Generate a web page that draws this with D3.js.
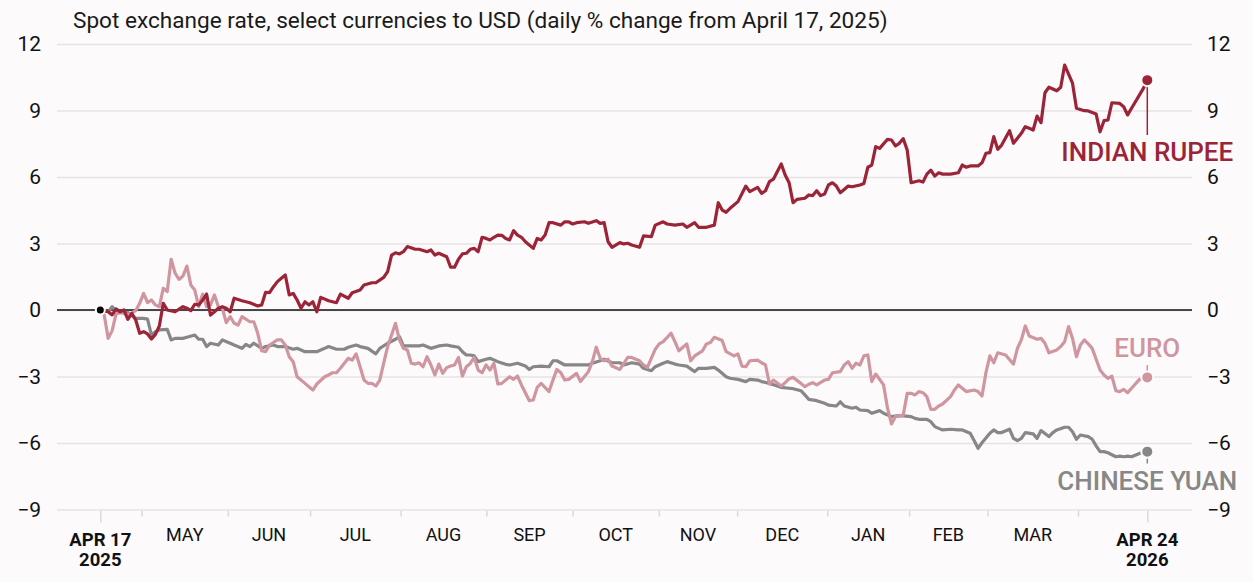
<!DOCTYPE html>
<html>
<head>
<meta charset="utf-8">
<script src="https://cdn.jsdelivr.net/npm/d3@7"></script>
<style>
  body { margin: 0; background: #fcfafb; }
  svg { display: block; font-family: Roboto, sans-serif; }
</style>
</head>
<body>
<svg id="chart"></svg>
<script>
const chartSize = { width: 1253, height: 582 };
const plot = { left: 57, right: 1192, top: 44, bottom: 509.5, x0: 100.3, x1: 1147.3 };

// trading days since Apr 17 2025 (266 = Apr 24 2026)
const lastDay = 266;
const yTicks = [-9, -6, -3, 0, 3, 6, 9, 12];
const monthDays = [10.5, 32.4, 53.3, 76.3, 98.1, 120, 141.9, 161.8, 184.7, 205.5, 225.4, 248.4];
const monthLabels = ['MAY', 'JUN', 'JUL', 'AUG', 'SEP', 'OCT', 'NOV', 'DEC', 'JAN', 'FEB', 'MAR'];
const endLabels = [['APR 17', '2025'], ['APR 24', '2026']];

// [trading day, % change]
const rupee = [[0,0],[2,-0.08],[3,-0.22],[4,0.05],[5,-0.08],[6,0],[7,-0.42],[8,-0.15],[9,-0.45],[10,-1.05],
  [11,-0.98],[12,-1.08],[13,-1.31],[14,-1.1],[15,-0.72],[16,0.3],[17,0],[19,-0.08],[21,0.15],[22,0.08],
  [23,-0.03],[24,0.26],[25,0.23],[26,0.45],[27,0.72],[28,-0.23],[29,-0.08],[30,0.08],[31,0.15],[32,0.08],
  [33,-0.08],[34,0.53],[36,0.42],[38,0.33],[40,0.18],[41,0.23],[42,0.8],[43,0.78],[44,1.05],[45,1.28],
  [46,1.43],[47,1.58],[48,0.68],[49,0.75],[50,0.45],[51,0.08],[52,0.37],[53,0.23],[54,0.37],[55,-0.08],
  [56,0.57],[58,0.42],[60,0.33],[61,0.72],[63,0.53],[64,0.78],[66,0.9],[67,1.13],[69,1.23],[70,1.23],
  [72,1.47],[73,1.73],[74,2.48],[75,2.58],[76,2.53],[77,2.63],[78,2.86],[80,2.74],[81,2.74],[83,2.63],
  [84,2.71],[85,2.48],[86,2.56],[87,2.48],[88,2.4],[89,1.93],[90,1.93],[91,2.29],[92,2.53],[93,2.56],
  [94,2.74],[95,2.78],[96,2.63],[97,3.28],[98,3.23],[99,3.16],[100,3.28],[101,3.38],[102,3.37],[103,3.23],
  [104,3.16],[105,3.58],[106,3.38],[107,3.28],[108,3.08],[110,2.78],[111,3.23],[112,3.16],[113,3.38],[114,3.94],
  [115,3.94],[117,3.83],[118,3.98],[119,3.98],[120,3.88],[121,3.94],[123,3.98],[124,3.91],[126,4.03],[127,3.91],
  [128,3.94],[129,3.08],[130,2.83],[132,3.04],[133,2.98],[134,3.01],[135,2.93],[137,2.83],[138,3.34],[140,3.31],
  [141,3.83],[143,3.98],[144,3.88],[146,3.83],[148,3.88],[149,3.73],[151,3.94],[152,3.73],[154,3.73],[156,3.83],
  [157,4.84],[158,4.51],[159,4.41],[160,4.59],[162,4.89],[164,5.59],[165,5.34],[167,5.53],[168,5.26],[169,5.38],
  [170,5.79],[171,5.9],[173,6.59],[174,6.09],[175,5.74],[176,4.84],[177,4.99],[179,5.04],[180,5.19],[181,5.16],
  [182,5.38],[183,5.16],[184,5.23],[185,5.64],[186,5.74],[187,5.59],[188,5.29],[189,5.44],[190,5.59],[191,5.56],
  [193,5.64],[194,5.71],[195,6.44],[196,6.54],[197,7.37],[198,7.29],[200,7.7],[201,7.67],[202,7.4],[203,7.52],
  [204,7.73],[205,7.22],[206,5.74],[208,5.83],[209,5.77],[210,6.13],[211,6.31],[212,6.04],[213,6.19],[214,6.13],
  [216,6.13],[218,6.19],[219,6.54],[220,6.44],[221,6.5],[223,6.5],[224,6.64],[225,7.07],[226,7.1],[227,7.82],
  [228,7.25],[229,7.44],[231,8.09],[232,7.52],[233,7.75],[234,7.97],[235,8.27],[236,8.2],[237,8.12],[238,8.75],
  [239,8.45],[240,9.8],[241,10.05],[243,9.89],[244,10.05],[245,11.05],[247,10.23],[248,9.1],[250,8.99],[251,8.98],
  [253,8.84],[254,8.04],[255,8.54],[256,8.57],[257,9.35],[259,9.32],[260,9.17],[261,8.8],[262,9.1],[265,10.0],
  [266,10.37]];

const euro = [[0,0],[1,-0.23],[2,-1.28],[3,-0.93],[4,-0.18],[5,-0.12],[6,-0.15],[7,-0.23],[9,-0.03],[10,0.3],
  [11,0.75],[12,0.33],[13,0.45],[14,0.23],[15,0.15],[16,0.98],[17,0.83],[18,2.29],[19,1.66],[20,1.38],
  [21,1.53],[22,1.98],[23,1.13],[24,0.9],[25,0.15],[26,0.72],[27,0.15],[28,0.23],[29,0.68],[30,0.15],
  [31,0.08],[32,-0.57],[33,-0.3],[34,-0.6],[35,-0.68],[36,-0.3],[38,-0.53],[39,-0.53],[40,-1.05],[41,-1.84],
  [42,-1.88],[43,-1.58],[45,-1.35],[46,-1.35],[47,-1.58],[48,-2.11],[49,-2.33],[50,-3.01],[52,-3.31],[53,-3.46],
  [54,-3.61],[55,-3.34],[57,-3.01],[58,-2.93],[59,-2.83],[60,-2.83],[61,-2.63],[63,-2.18],[64,-2.26],[65,-1.98],
  [66,-2.56],[67,-3.16],[68,-3.31],[69,-3.31],[70,-3.43],[71,-3.16],[72,-2.4],[73,-1.65],[74,-1.13],[75,-0.6],
  [76,-1.35],[77,-1.73],[78,-1.8],[79,-2.4],[80,-2.44],[81,-2.38],[82,-2.56],[83,-2.11],[84,-2.48],[85,-2.93],
  [86,-2.44],[87,-2.86],[88,-2.6],[89,-2.53],[90,-2.48],[91,-2.14],[92,-2.98],[93,-2.56],[94,-2.41],[95,-2.14],
  [96,-2.71],[97,-2.83],[98,-2.48],[99,-2.71],[100,-2.41],[101,-3.34],[102,-3.31],[104,-3.01],[105,-3.13],[106,-2.98],
  [107,-3.38],[109,-4.09],[110,-4.06],[111,-3.49],[112,-3.31],[114,-3.68],[115,-3.16],[116,-2.68],[117,-2.83],[118,-3.16],
  [119,-3.13],[121,-2.86],[122,-3.23],[124,-2.78],[125,-2.33],[126,-1.68],[127,-2.18],[128,-2.29],[129,-2.22],[130,-2.53],
  [132,-2.68],[133,-2.41],[134,-2.14],[135,-2.14],[137,-2.29],[138,-2.48],[139,-2.59],[141,-1.77],[142,-1.53],[143,-1.43],
  [145,-1.05],[146,-1.43],[147,-1.84],[149,-1.53],[150,-2.29],[151,-2.07],[153,-1.84],[154,-1.53],[155,-1.47],[156,-1.23],
  [158,-1.38],[159,-1.88],[161,-2.07],[162,-1.98],[163,-2.53],[164,-2.56],[165,-2.29],[167,-2.26],[168,-2.38],[169,-2.48],
  [170,-3.34],[171,-3.16],[173,-3.43],[174,-3.28],[175,-3.1],[176,-3.04],[178,-3.31],[179,-3.46],[180,-3.35],[181,-3.28],
  [182,-3.38],[184,-3.16],[185,-3.13],[186,-2.83],[188,-2.78],[189,-2.48],[190,-2.33],[191,-2.63],[192,-2.4],[193,-2.48],
  [194,-2.07],[195,-2.03],[196,-3.23],[197,-2.89],[199,-3.38],[200,-4.43],[201,-5.14],[202,-4.81],[204,-4.74],[205,-3.76],
  [206,-3.76],[207,-3.83],[208,-3.68],[209,-3.73],[210,-3.91],[211,-4.48],[212,-4.48],[213,-4.33],[214,-4.24],[216,-3.91],
  [217,-3.61],[218,-3.38],[219,-3.53],[220,-3.68],[222,-3.61],[223,-3.68],[224,-3.88],[225,-2.83],[226,-2.07],[227,-2.38],
  [228,-1.93],[230,-2.03],[232,-2.44],[233,-1.73],[234,-1.35],[235,-0.72],[236,-1.17],[238,-1.32],[239,-1.28],[240,-1.5],
  [241,-1.93],[243,-1.8],[244,-1.65],[245,-1.43],[246,-0.75],[247,-1.28],[248,-2.11],[249,-1.58],[250,-1.35],[251,-1.53],
  [252,-1.73],[254,-2.71],[255,-2.93],[256,-3.08],[257,-2.98],[258,-3.64],[259,-3.68],[260,-3.58],[261,-3.73],[262,-3.53],
  [264,-3.13],[266,-3.04]];

const yuan = [[0,0],[2,-0.08],[3,0.15],[4,-0.03],[5,-0.08],[7,-0.12],[9,-0.38],[11,-0.38],[12,-0.41],[13,-1.13],
  [14,-0.98],[15,-0.9],[17,-0.87],[18,-1.35],[19,-1.28],[21,-1.28],[22,-1.23],[24,-1.13],[25,-1.32],[26,-1.32],
  [27,-1.65],[28,-1.5],[30,-1.58],[31,-1.35],[33,-1.5],[34,-1.58],[36,-1.73],[37,-1.55],[38,-1.65],[39,-1.5],
  [41,-1.73],[42,-1.65],[44,-1.58],[45,-1.65],[47,-1.65],[49,-1.77],[50,-1.73],[52,-1.88],[55,-1.88],[57,-1.73],
  [58,-1.65],[60,-1.77],[62,-1.77],[63,-1.68],[65,-1.58],[66,-1.65],[68,-1.73],[70,-1.98],[71,-1.73],[73,-1.5],
  [75,-1.32],[76,-1.2],[77,-1.62],[79,-1.62],[81,-1.62],[82,-1.58],[84,-1.73],[86,-1.62],[88,-1.58],[89,-1.62],
  [91,-1.68],[92,-1.88],[93,-2.03],[94,-2.03],[95,-2.07],[96,-2.33],[98,-2.22],[99,-2.18],[101,-2.33],[103,-2.45],
  [104,-2.48],[106,-2.4],[108,-2.53],[109,-2.68],[110,-2.56],[112,-2.53],[114,-2.56],[115,-2.29],[116,-2.29],[118,-2.48],
  [120,-2.48],[122,-2.48],[124,-2.48],[125,-2.4],[127,-2.29],[128,-2.22],[130,-2.38],[132,-2.38],[133,-2.48],[135,-2.38],
  [137,-2.44],[138,-2.63],[140,-2.74],[141,-2.56],[143,-2.4],[144,-2.33],[146,-2.44],[147,-2.48],[149,-2.53],[151,-2.78],
  [152,-2.63],[154,-2.63],[156,-2.59],[157,-2.71],[159,-3.01],[160,-3.08],[162,-3.13],[164,-3.23],[165,-3.13],[167,-3.16],
  [168,-3.23],[170,-3.31],[172,-3.43],[173,-3.49],[175,-3.53],[176,-3.55],[178,-3.64],[179,-3.83],[180,-4.03],[182,-4.09],
  [184,-4.21],[185,-4.29],[187,-4.33],[188,-4.14],[189,-4.33],[191,-4.43],[192,-4.39],[193,-4.51],[195,-4.54],[196,-4.66],
  [198,-4.54],[199,-4.66],[201,-4.81],[202,-4.78],[204,-4.78],[206,-4.81],[207,-4.89],[208,-4.93],[210,-4.93],[211,-5.04],
  [212,-5.26],[213,-5.34],[214,-5.41],[216,-5.38],[218,-5.41],[219,-5.41],[221,-5.56],[222,-5.89],[223,-6.24],[224,-5.99],
  [226,-5.56],[227,-5.41],[228,-5.53],[229,-5.53],[231,-5.38],[232,-5.79],[233,-5.89],[234,-5.79],[235,-5.53],[237,-5.59],
  [238,-5.79],[239,-5.44],[241,-5.71],[242,-5.53],[243,-5.41],[245,-5.29],[246,-5.29],[247,-5.49],[248,-5.83],[249,-5.64],
  [251,-5.71],[252,-5.83],[253,-6.13],[254,-6.39],[255,-6.39],[256,-6.44],[258,-6.62],[259,-6.59],[260,-6.62],[261,-6.59],
  [262,-6.62],[264,-6.47],[266,-6.39]];

const seriesNames = ['CHINESE YUAN', 'EURO', 'INDIAN RUPEE'];
const seriesColors = ['#878787', '#cf96a0', '#9b2438'];

const drawChart = () => {
    const svg = d3.select('#chart')
        .attr('width', chartSize.width)
        .attr('height', chartSize.height);

    const x = d3.scaleLinear().domain([0, lastDay]).range([plot.x0, plot.x1]);
    const y = d3.scaleLinear().domain([-9, 12]).range([plot.bottom, plot.top]);

    svg.append('text')
        .attr('x', 73)
        .attr('y', 28)
        .attr('font-size', 22.6)
        .attr('fill', '#1a1a1a')
        .text('Spot exchange rate, select currencies to USD (daily % change from April 17, 2025)');

    // gridlines
    const grid = svg.append('g')
        .attr('transform', `translate(${plot.left},0)`)
        .call(d3.axisLeft(y).tickValues(yTicks).tickSize(-(plot.right - plot.left)).tickFormat(''));
    grid.select('.domain').remove();
    grid.selectAll('line').attr('stroke', '#e6e3e4').attr('stroke-width', 1.5);

    const yLabels = (axis, xPos, anchor) => {
        const g = svg.append('g')
            .attr('transform', `translate(${xPos},0)`)
            .call(axis.tickValues(yTicks).tickSize(0).tickPadding(0));
        g.select('.domain').remove();
        g.selectAll('text')
            .attr('font-family', 'Roboto, sans-serif')
            .attr('font-size', 21)
            .attr('fill', '#111')
            .attr('text-anchor', anchor);
    };
    yLabels(d3.axisLeft(y), 41, 'end');
    yLabels(d3.axisRight(y), 1207, 'start');

    // month ticks
    const months = svg.append('g')
        .attr('transform', `translate(0,${plot.bottom + 1})`)
        .call(d3.axisBottom(x).tickValues(monthDays).tickSize(6).tickFormat(''));
    months.select('.domain').remove();
    months.selectAll('line').attr('stroke', '#dcd9da').attr('stroke-width', 1.5);

    const ends = svg.append('g')
        .attr('transform', `translate(0,${plot.bottom + 1})`)
        .call(d3.axisBottom(x).tickValues([0, lastDay]).tickSize(12).tickFormat(''));
    ends.select('.domain').remove();
    ends.selectAll('line').attr('stroke', '#dcd9da').attr('stroke-width', 1.5);

    svg.append('g').selectAll('text')
        .data(monthLabels)
        .join('text')
        .attr('x', (d, i) => x((monthDays[i] + monthDays[i + 1]) / 2))
        .attr('y', 540.5)
        .attr('text-anchor', 'middle')
        .attr('font-size', 18)
        .attr('fill', '#111')
        .text(d => d);

    const endText = svg.append('g').selectAll('text')
        .data(endLabels)
        .join('text')
        .attr('x', (d, i) => x(i === 0 ? 0 : lastDay))
        .attr('text-anchor', 'middle')
        .attr('font-size', 18.5)
        .attr('font-weight', 'bold')
        .attr('fill', '#111');
    endText.append('tspan').attr('y', 545.5).text(d => d[0]);
    endText.append('tspan')
        .attr('x', (d, i) => x(i === 0 ? 0 : lastDay))
        .attr('y', 565.5)
        .text(d => d[1]);

    // zero line
    svg.append('line')
        .attr('x1', plot.left).attr('x2', plot.right)
        .attr('y1', y(0)).attr('y2', y(0))
        .attr('stroke', '#111').attr('stroke-width', 1.5);

    const line = d3.line().x(d => x(d[0])).y(d => y(d[1]));
    const allSeries = [yuan, euro, rupee];

    svg.append('g').selectAll('path')
        .data(allSeries)
        .join('path')
        .attr('d', line)
        .attr('fill', 'none')
        .attr('stroke', (d, i) => seriesColors[i])
        .attr('stroke-width', 3.2)
        .attr('stroke-linejoin', 'round');

    // start dot
    svg.append('circle')
        .attr('cx', x(0)).attr('cy', y(0)).attr('r', 4.5)
        .attr('fill', '#000').attr('stroke', '#fcfafb').attr('stroke-width', 2);

    // label baseline and connector end for each series
    const labelPos = [
        { base: 490, lineTo: 463.5 },
        { base: 357, lineTo: 365 },
        { base: 161, lineTo: 135 }
    ];

    allSeries.forEach((s, i) => {
        const last = s[s.length - 1];
        const cx = x(last[0]);
        const cy = y(last[1]);
        const pos = labelPos[i];
        svg.append('line')
            .attr('x1', cx).attr('x2', cx)
            .attr('y1', cy).attr('y2', pos.lineTo)
            .attr('stroke', seriesColors[i]).attr('stroke-width', 1.5);
        svg.append('circle')
            .attr('cx', cx).attr('cy', cy).attr('r', 6)
            .attr('fill', seriesColors[i])
            .attr('stroke', '#fcfafb').attr('stroke-width', 2);
        svg.append('text')
            .attr('x', cx)
            .attr('y', pos.base)
            .attr('text-anchor', 'middle')
            .attr('font-size', 26)
            .attr('font-weight', 500)
            .attr('fill', seriesColors[i])
            .text(seriesNames[i]);
    });
};

window.onload = drawChart;
</script>
</body>
</html>
